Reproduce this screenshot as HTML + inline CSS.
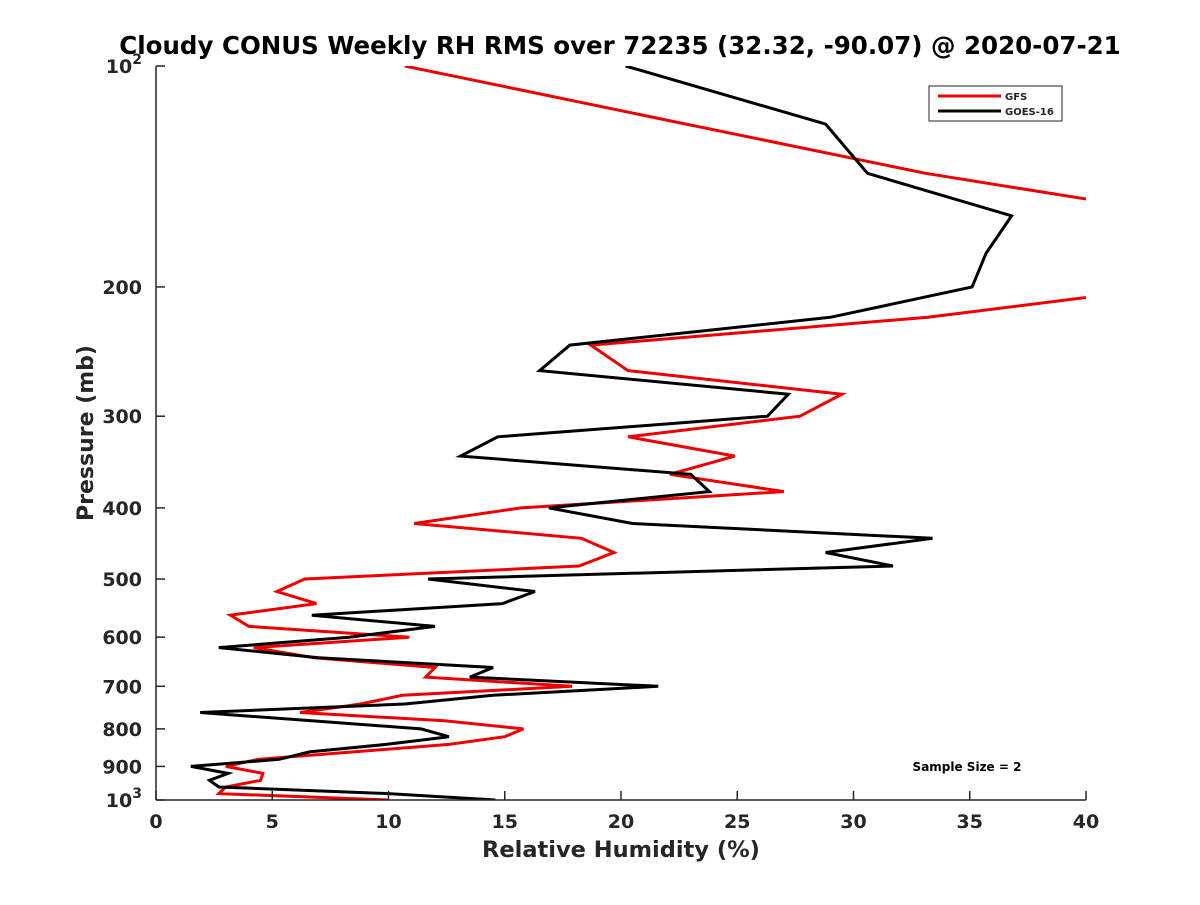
<!DOCTYPE html>
<html><head><meta charset="utf-8"><style>
html,body{margin:0;padding:0;background:#fff;}
svg text{font-family:"DejaVu Sans","Liberation Sans",sans-serif;font-weight:bold;fill:#262626;}
</style></head><body>
<svg id="chart" width="1200" height="900" viewBox="0 0 1200 900" xmlns="http://www.w3.org/2000/svg">
<rect width="1200" height="900" fill="#fff"/>
<text x="620" y="54" text-anchor="middle" font-size="24.5" style="fill:#000">Cloudy CONUS Weekly RH RMS over 72235 (32.32, -90.07) @ 2020-07-21</text>
<defs><clipPath id="pc"><rect x="156" y="66" width="930" height="734"/></clipPath></defs>
<g id="series" clip-path="url(#pc)"></g>
<g id="axes"></g>
<text x="621" y="857" text-anchor="middle" font-size="22.5">Relative Humidity (%)</text>
<text transform="translate(93,433) rotate(-90)" text-anchor="middle" font-size="22">Pressure (mb)</text>
<g>
<rect x="929" y="86" width="133" height="35" fill="#fff" stroke="#262626" stroke-width="1"/>
<line x1="938" y1="96" x2="1001" y2="96" stroke="#e00" stroke-width="3"/>
<text x="1005" y="100" font-size="10">GFS</text>
<line x1="938" y1="111" x2="1001" y2="111" stroke="#000" stroke-width="3"/>
<text x="1005" y="115" font-size="10">GOES-16</text>
</g>
<text x="967" y="771" text-anchor="middle" font-size="12" style="fill:#000">Sample Size = 2</text>
</svg>
<script>
const pressures = [100,120,140,160,180,200,220,240,260,280,300,320,340,360,380,400,420,440,460,480,500,520,540,560,580,600,620,640,660,680,700,720,740,760,780,800,820,840,860,880,900,920,940,960,980,1000];
const gfsValues = [10.7,22.8,33.1,44.5,50.0,43.6,33.2,18.7,20.3,29.5,27.7,20.3,24.9,22.1,27.0,15.7,11.1,18.3,19.7,18.2,6.4,5.2,6.9,3.2,4.0,10.9,4.2,6.8,12.0,11.6,17.9,10.6,8.8,6.2,12.4,15.8,15.0,12.6,8.5,4.4,3.0,4.6,4.5,3.0,2.7,10.0];
const goesValues = [20.2,28.8,30.6,36.8,35.7,35.1,29.0,17.8,16.5,27.2,26.3,14.7,13.1,23.0,23.8,16.9,20.5,33.4,28.8,31.7,11.7,16.3,14.9,6.7,12.0,8.3,2.7,7.0,14.5,13.5,21.6,14.5,10.7,1.9,6.7,11.4,12.6,9.9,6.6,5.3,1.5,3.1,2.3,2.7,10.0,14.6];
const xTicks = [0,5,10,15,20,25,30,35,40];
const yTicks = [100,200,300,400,500,600,700,800,900,1000];
const yTickLabels = ["10^2","200","300","400","500","600","700","800","900","10^3"];

const X0=156,X1=1086,Y0=66,Y1=800;
const xs = v => X0 + (v-0)/(40-0)*(X1-X0);
const ys = p => Y0 + (Math.log10(p)-2)*(Y1-Y0);
const NS="http://www.w3.org/2000/svg";
const series=document.getElementById('series');
function addLine(vals,color,name){
  const pl=document.createElementNS(NS,'polyline');
  pl.setAttribute('points',vals.map((v,i)=>xs(v).toFixed(1)+','+ys(pressures[i]).toFixed(1)).join(' '));
  pl.setAttribute('fill','none');pl.setAttribute('stroke',color);pl.setAttribute('stroke-width','3');pl.setAttribute('stroke-linejoin','miter');
  
  
  series.appendChild(pl);
}
addLine(gfsValues,'#e00','gfs-line');
addLine(goesValues,'#000','goes16-line');

const axes=document.getElementById('axes');
function mk(tag,attrs){const e=document.createElementNS(NS,tag);for(const k in attrs)e.setAttribute(k,attrs[k]);axes.appendChild(e);return e;}
const xa=mk('line',{x1:X0,y1:Y1,x2:X1,y2:Y1,stroke:'#262626','stroke-width':1.5});


const ya=mk('line',{x1:X0,y1:Y0,x2:X0,y2:Y1,stroke:'#262626','stroke-width':1.5});


xTicks.forEach(t=>{
  const x=xs(t);
  mk('line',{x1:x,y1:Y1,x2:x,y2:Y1-9,stroke:'#262626','stroke-width':1.5});
  const tx=mk('text',{x:x,y:Y1+28,'text-anchor':'middle','font-size':19});
  tx.textContent=t;
  
  
});
yTicks.forEach((p,i)=>{
  const y=ys(p);
  mk('line',{x1:X0,y1:y,x2:X0+9,y2:y,stroke:'#262626','stroke-width':1.5});
  const lab=yTickLabels[i];
  if(lab.indexOf('^')>=0){
    const parts=lab.split('^');
    const tx=mk('text',{x:X0-14,y:y+7,'text-anchor':'end','font-size':19});
    
    
    const a=document.createElementNS(NS,'tspan');a.textContent=parts[0];tx.appendChild(a);
    const b=document.createElementNS(NS,'tspan');b.setAttribute('dy','-9');b.setAttribute('font-size','14');b.textContent=parts[1];tx.appendChild(b);
  } else {
    const tx=mk('text',{x:X0-14,y:y+7,'text-anchor':'end','font-size':19});
    tx.textContent=lab;
    
    
  }
});
</script>
</body></html>
